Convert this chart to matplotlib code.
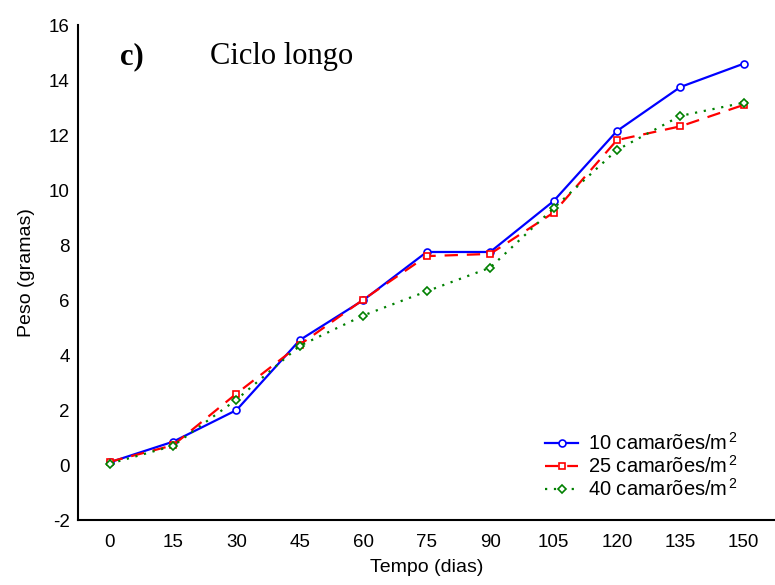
import matplotlib
matplotlib.use("Agg")
import matplotlib.pyplot as plt

# data
dias = [0, 15, 30, 45, 60, 75, 90, 105, 120, 135, 150]
peso_10 = [0.10, 0.85, 2.00, 4.55, 6.00, 7.75, 7.75, 9.60, 12.15, 13.75, 14.60]
peso_25 = [0.12, 0.72, 2.60, 4.38, 6.02, 7.60, 7.68, 9.18, 11.82, 12.32, 13.10]
peso_40 = [0.05, 0.70, 2.38, 4.34, 5.44, 6.32, 7.18, 9.34, 11.46, 12.70, 13.18]
rotulos = ["10 camarões/m$^{\\,2}$", "25 camarões/m$^{\\,2}$", "40 camarões/m$^{\\,2}$"]

plt.rcParams["font.family"] = ["Liberation Sans", "DejaVu Sans"]
plt.rcParams["mathtext.fontset"] = "custom"
plt.rcParams["mathtext.rm"] = "Liberation Sans"
plt.rcParams["mathtext.it"] = "Liberation Sans"
plt.rcParams["axes.unicode_minus"] = False

fig = plt.figure(figsize=(7.75, 5.85), dpi=100)
ax = fig.add_axes([0.1006, 0.111, 0.9, 0.846])

ax.plot(dias, peso_10, color="blue", lw=1.6, marker="o", ms=5,
        mfc="white", mec="blue", mew=1.2, label=rotulos[0])
ax.plot(dias, peso_25, color="red", lw=1.6, ls=(0, (6, 4)), marker="s", ms=5,
        mfc="white", mec="red", mew=1.2, label=rotulos[1])
ax.plot(dias, peso_40, color="green", lw=1.6, ls=(0, (1, 3)), marker="D", ms=4.5,
        mfc="white", mec="green", mew=1.2, label=rotulos[2])

ax.set_xlim(-7.5, 157.5)
ax.set_ylim(-2, 16)
ax.set_xticks(dias)
ax.set_yticks(range(-2, 17, 2))
ax.tick_params(length=0, labelsize=13.5)
ax.tick_params(axis="x", pad=10)
ax.tick_params(axis="y", pad=6)
ax.spines["top"].set_visible(False)
ax.spines["right"].set_visible(False)
ax.spines["left"].set_linewidth(1.5)
ax.spines["bottom"].set_linewidth(1.5)

ax.set_xlabel("Tempo (dias)", fontsize=14, labelpad=6)
ax.set_ylabel("Peso (gramas)", fontsize=14, labelpad=10)

ax.text(0.06, 0.965, "c)", transform=ax.transAxes, fontsize=22,
        fontweight="bold", family="Liberation Serif", va="top")
ax.text(0.19, 0.965, "Ciclo longo", transform=ax.transAxes, fontsize=22,
        family="Liberation Serif", va="top")

ax.legend(loc="center left", bbox_to_anchor=(0.6695, 0.109), frameon=False,
          fontsize=14.5, handlelength=1.65, labelspacing=0.05, handletextpad=0.5,
          borderpad=0, borderaxespad=0)

fig.savefig("out.png", dpi=100)
